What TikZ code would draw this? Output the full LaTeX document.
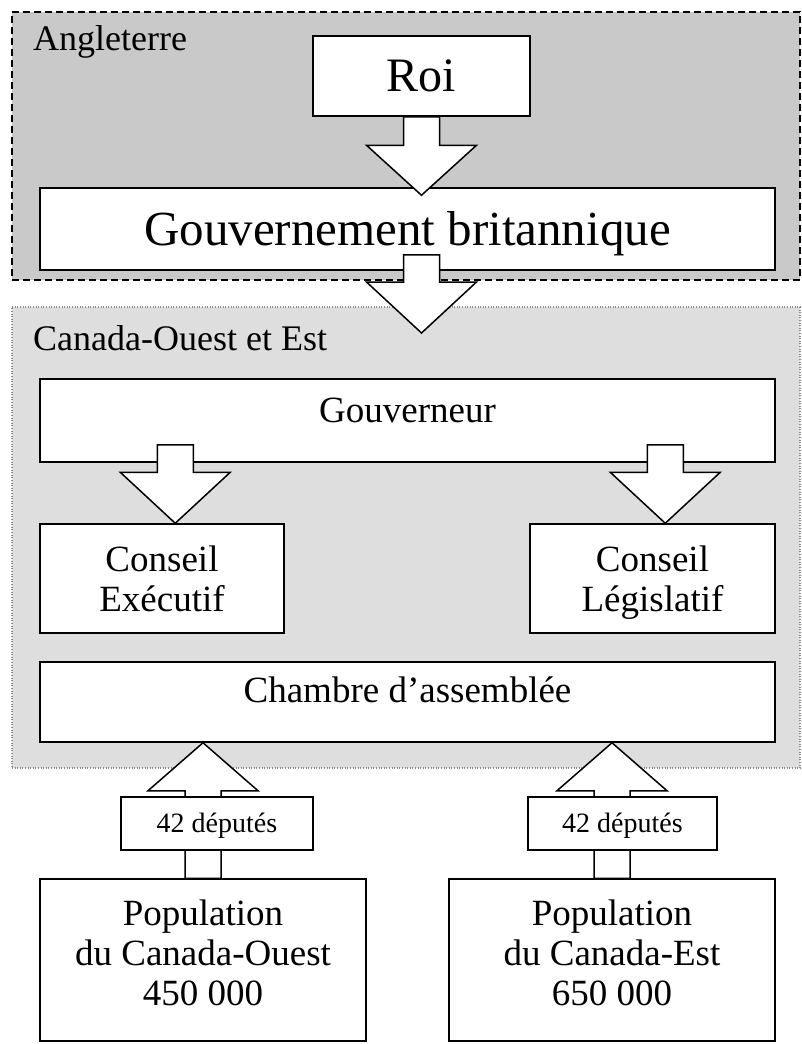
\documentclass[tikz,border=0pt]{standalone}
\usepackage{fontspec}
\setmainfont{Liberation Serif}
\usetikzlibrary{calc}
\definecolor{engfill}{RGB}{201,201,201}
\definecolor{canfill}{RGB}{222,222,222}
\definecolor{canline}{RGB}{140,140,140}
\tikzset{
  box/.style={draw=black, line width=1.5pt, fill=white, inner sep=0pt, align=center,
    font=\fontsize{37}{40}\selectfont},
  barrow/.style={draw=black, line width=1.5pt, fill=white, line join=miter},
  grouplabel/.style={anchor=base west, inner sep=0pt, font=\fontsize{36}{40}\selectfont},
  engbox/.style={draw=black, line width=1.3pt, dash pattern=on 7pt off 4pt, fill=engfill, inner sep=0pt},
  canbox/.style={draw=canline, line width=1.2pt, dash pattern=on 1pt off 1.6pt, fill=canfill, inner sep=0pt},
}
\newcommand\arrdown[3]{\draw[barrow] let \p1=(#1), \p2=(#2) in
  (\x1-18pt,\y1) -- (\x1+18pt,\y1) -- (\x1+18pt,\y2+#3) -- (\x1+55pt,\y2+#3) -- (\x1,\y2)
  -- (\x1-55pt,\y2+#3) -- (\x1-18pt,\y2+#3) -- cycle;}
\newcommand\arrup[3]{\draw[barrow] let \p1=(#1), \p2=(#2) in
  (\x1-18pt,\y1) -- (\x1+18pt,\y1) -- (\x1+18pt,\y2-#3) -- (\x1+55pt,\y2-#3) -- (\x1,\y2)
  -- (\x1-55pt,\y2-#3) -- (\x1-18pt,\y2-#3) -- cycle;}
\begin{document}
\begin{tikzpicture}[x=1pt,y=-1pt]
\useasboundingbox (0,0) rectangle (802,1044);
\fill[white] (0,0) rectangle (802,1044);
% groups
\node[engbox, minimum width=788pt, minimum height=268pt] (eng) at (406,146) {};
\node[canbox, minimum width=788pt, minimum height=461pt] (can) at (406,537.5) {};
\node[grouplabel] (englabel) at (33,50) {Angleterre};
\node[grouplabel] (canlabel) at (33,350) {Canada-Ouest et Est};
% England
\node[box, minimum width=217pt, minimum height=80pt, font=\fontsize{48}{50}\selectfont,
  text height=31pt, text depth=0pt] (roi) at (421.5,76) {Roi};
\node[box, minimum width=735pt, minimum height=82pt, font=\fontsize{49}{50}\selectfont,
  text height=32pt, text depth=0pt] (gb) at (407.5,229) {Gouvernement britannique};
\arrdown{roi.south}{$(gb.north)+(0,8)$}{50pt}
\coordinate (s1) at ($(roi.south |- gb.south)+(0,-16)$);
\coordinate (t1) at (421.5,333);
\arrdown{s1}{t1}{51pt}
% Canada
\node[box, minimum width=735pt, minimum height=83pt, text height=25pt, text depth=22pt] (gv) at (407.5,420.5) {Gouverneur};
\node[box, minimum width=244pt, minimum height=109pt, text depth=0pt] (ce) at (162,578.5) {Conseil\\Exécutif};
\node[box, minimum width=245pt, minimum height=109pt, text depth=0pt] (cl) at (652.5,578.5) {Conseil\\Législatif};
\coordinate (s2) at ($(gv.south west)+(136,-18)$);
\coordinate (s3) at ($(gv.south west)+(626,-18)$);
\arrdown{s2}{ce.north}{51pt}
\arrdown{s3}{cl.north}{51pt}
\node[box, minimum width=735pt, minimum height=80pt, text height=24pt, text depth=24pt] (ch) at (407.5,702) {Chambre d’assemblée};
% populations
\node[box, minimum width=326pt, minimum height=162pt, text depth=15pt] (pw) at (203,960) {Population\\du Canada-Ouest\\450 000};
\node[box, minimum width=326pt, minimum height=162pt, text depth=15pt] (pe) at (612,960) {Population\\du Canada-Est\\650 000};
\arrup{pw.north}{ch.south}{48pt}
\arrup{pe.north}{ch.south}{48pt}
\node[box, minimum width=192pt, minimum height=53pt, font=\fontsize{28}{30}\selectfont,
  text height=18pt, text depth=0pt] (dw) at (217,823.5) {42 députés};
\node[box, minimum width=189pt, minimum height=53pt, font=\fontsize{28}{30}\selectfont,
  text height=18pt, text depth=0pt] (de) at (622.5,823.5) {42 députés};
\end{tikzpicture}
\end{document}
